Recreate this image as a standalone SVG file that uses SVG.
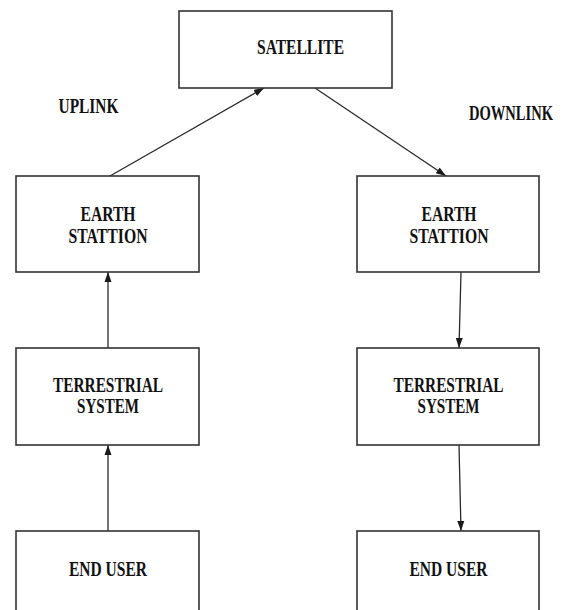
<svg xmlns="http://www.w3.org/2000/svg" width="566" height="610" viewBox="0 0 566 610">
<defs>
<marker id="ah" markerUnits="userSpaceOnUse" markerWidth="10" markerHeight="10" viewBox="0 0 10 10" refX="10" refY="5" orient="auto">
<path d="M0,1.5 L10,5 L0,8.5 Z" fill="#1a1a1a"/>
</marker>
<style>
.box{fill:#fff;stroke:#333;stroke-width:1.6}
.lbl{font-family:"Liberation Serif","Times New Roman",serif;font-weight:bold;font-size:20px;fill:#111;text-anchor:middle}
.conn{stroke:#2a2a2a;stroke-width:1.3;fill:none}
</style>
</defs>
<rect width="566" height="610" fill="#fff"/>
<g id="connectors">
<line class="conn" x1="110" y1="176" x2="264" y2="88" marker-end="url(#ah)"/>
<line class="conn" x1="315" y1="88" x2="446" y2="176" marker-end="url(#ah)"/>
<line class="conn" x1="108" y1="348" x2="108" y2="272" marker-end="url(#ah)"/>
<line class="conn" x1="461" y1="272" x2="459" y2="348" marker-end="url(#ah)"/>
<line class="conn" x1="108" y1="531" x2="108" y2="445" marker-end="url(#ah)"/>
<line class="conn" x1="459" y1="445" x2="461" y2="531" marker-end="url(#ah)"/>
</g>
<g id="satellite">
<rect class="box" x="179" y="11" width="213" height="77"/>
<text class="lbl" x="300.5" y="54" textLength="87" lengthAdjust="spacingAndGlyphs">SATELLITE</text>
</g>
<g id="uplink-label">
<text class="lbl" x="88.5" y="113" textLength="60" lengthAdjust="spacingAndGlyphs">UPLINK</text>
</g>
<g id="downlink-label">
<text class="lbl" transform="translate(511,120) scale(0.727,1)" x="0" y="0">DOWNLINK</text>
</g>
<g id="earth-left">
<rect class="box" x="16" y="176" width="183" height="96"/>
<text class="lbl" x="108" y="221" textLength="55" lengthAdjust="spacingAndGlyphs">EARTH</text>
<text class="lbl" x="108" y="243" textLength="79" lengthAdjust="spacingAndGlyphs">STATTION</text>
</g>
<g id="earth-right">
<rect class="box" x="357" y="176" width="182" height="96"/>
<text class="lbl" x="449" y="221" textLength="55" lengthAdjust="spacingAndGlyphs">EARTH</text>
<text class="lbl" x="449" y="243" textLength="79" lengthAdjust="spacingAndGlyphs">STATTION</text>
</g>
<g id="terrestrial-left">
<rect class="box" x="16" y="348" width="183" height="97"/>
<text class="lbl" x="108" y="392" textLength="110" lengthAdjust="spacingAndGlyphs">TERRESTRIAL</text>
<text class="lbl" x="108" y="413" textLength="62" lengthAdjust="spacingAndGlyphs">SYSTEM</text>
</g>
<g id="terrestrial-right">
<rect class="box" x="357" y="348" width="182" height="97"/>
<text class="lbl" x="448.5" y="392" textLength="110" lengthAdjust="spacingAndGlyphs">TERRESTRIAL</text>
<text class="lbl" x="448.5" y="413" textLength="62" lengthAdjust="spacingAndGlyphs">SYSTEM</text>
</g>
<g id="enduser-left">
<rect class="box" x="16" y="531" width="183" height="85"/>
<text class="lbl" x="108" y="576" textLength="78" lengthAdjust="spacingAndGlyphs">END USER</text>
</g>
<g id="enduser-right">
<rect class="box" x="357" y="531" width="182" height="85"/>
<text class="lbl" x="448.5" y="576" textLength="78" lengthAdjust="spacingAndGlyphs">END USER</text>
</g>
</svg>
